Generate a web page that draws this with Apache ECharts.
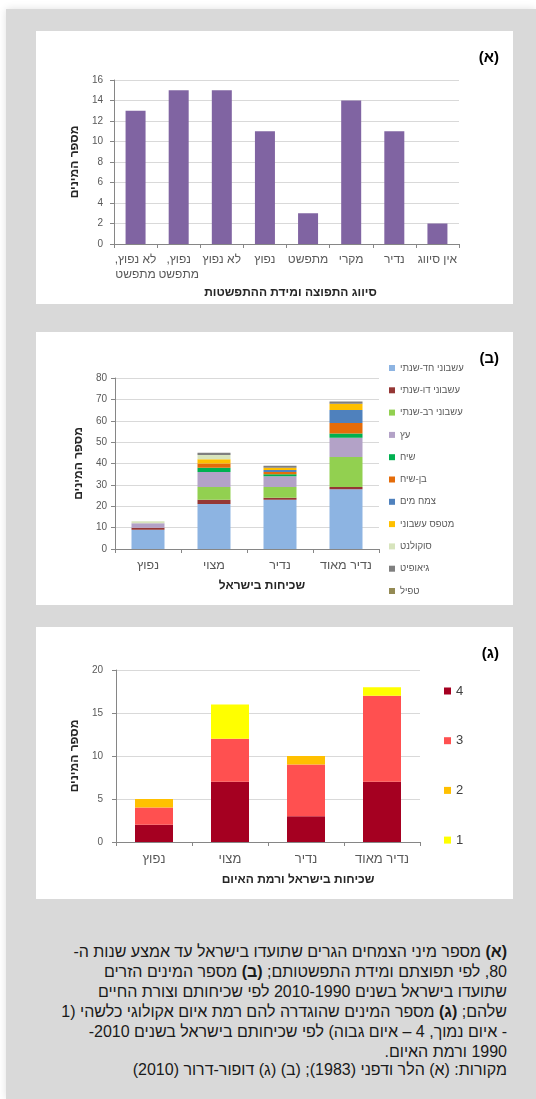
<!DOCTYPE html>
<html lang="he">
<head>
<meta charset="utf-8">
<title>מיני צמחים בישראל</title>
<script src="https://cdn.jsdelivr.net/npm/echarts@6/dist/echarts.min.js"></script>
<style>
  html, body { margin: 0; padding: 0; background: #fff; }
  body {
    width: 536px; height: 1099px; position: relative; overflow: hidden;
    font-family: Arial, "Liberation Sans", "DejaVu Sans", sans-serif;
  }
  .panel {
    position: absolute; left: 6px; top: 9px; width: 530px; height: 1090px;
    background: #d9d9d9; box-shadow: 0 0 8px rgba(0, 0, 0, 0.12);
  }
  .card { position: absolute; left: 36px; width: 477px; background: #fff; }
  .chart { width: 100%; height: 100%; }
  .caption {
    position: absolute; right: 29px; top: 942px; width: 480px;
    direction: rtl; text-align: right; font-size: 16px; line-height: 20px; color: #1a1a1a;
  }
  .sources {
    position: absolute; right: 29px; top: 1060px; width: 480px;
    direction: rtl; text-align: right; font-size: 16px; line-height: 20px; color: #1a1a1a;
  }
</style>
</head>
<body>
<div class="panel"></div>
<div class="card" style="top:31px;height:273px"><div class="chart" id="chartA" dir="rtl"></div></div>
<div class="card" style="top:332px;height:273px"><div class="chart" id="chartB" dir="rtl"></div></div>
<div class="card" style="top:627px;height:272px"><div class="chart" id="chartC" dir="rtl"></div></div>
<div class="caption">
<b>(א)</b> מספר מיני הצמחים הגרים שתועדו בישראל עד אמצע שנות ה-<br>80, לפי תפוצתם ומידת התפשטותם; <b>(ב)</b> מספר המינים הזרים<br>שתועדו בישראל בשנים 2010-1990 לפי שכיחותם וצורת החיים<br>שלהם; <b>(ג)</b> מספר המינים שהוגדרה להם רמת איום אקולוגי כלשהי (1<br>- איום נמוך, 4 – איום גבוה) לפי שכיחותם בישראל בשנים 2010-<br>1990 ורמת האיום.
</div>
<div class="sources">מקורות: (א) הלר ודפני (1983); (ב) (ג) דופור-דרור (2010)</div>

<script>
// (א) distribution / spread categories
const distCategories = ['לא נפוץ,\nמתפשט', 'נפוץ,\nמתפשט', 'לא נפוץ', 'נפוץ', 'מתפשט', 'מקרי', 'נדיר', 'אין סיווג'];
const distCounts = [13, 15, 15, 11, 3, 14, 11, 2];

// (ב) + (ג) frequency in Israel
const freqCategories = ['נפוץ', 'מצוי', 'נדיר', 'נדיר מאוד'];

// (ב) life forms, bottom of the stack first
const lifeForms = ['עשבוני חד-שנתי', 'עשבוני דו-שנתי', 'עשבוני רב-שנתי', 'עץ', 'שיח', 'בן-שיח', 'צמח מים', 'מטפס עשבוני', 'סוקולנט', 'גיאופיט', 'טפיל'];
const annualHerb = [9, 21, 23, 28];
const biennialHerb = [1, 2, 1, 1];
const perennialHerb = [0, 6, 5, 14];
const tree = [2, 7, 5, 9];
const shrub = [0, 2, 1, 2];
const subShrub = [0, 2, 1, 5];
const aquatic = [0, 0, 1, 6];
const climber = [0, 2, 1, 3];
const succulent = [1, 2, 0, 0];
const geophyte = [0, 1, 1, 1];
const parasite = [0, 0, 0, 0];
const lifeFormValues = [annualHerb, biennialHerb, perennialHerb, tree, shrub, subShrub, aquatic, climber, succulent, geophyte, parasite];
const lifeFormColors = ['#8db4e2', '#953735', '#92d050', '#b3a2c7', '#00b050', '#e46c0a', '#4f81bd', '#ffc000', '#d7e4bd', '#7f7f7f', '#948a54'];

// (ג) threat level, bottom of the stack first
const threatLevels = ['4', '3', '2', '1'];
const threat4 = [2, 7, 3, 7];
const threat3 = [2, 5, 6, 10];
const threat2 = [1, 0, 1, 0];
const threat1 = [0, 4, 0, 1];
const threatValues = [threat4, threat3, threat2, threat1];
const threatColors = ['#a50021', '#ff5050', '#ffc000', '#ffff00'];

const FONT = 'Arial, "Liberation Sans", "DejaVu Sans", sans-serif';
const AXIS_GRAY = '#868686';
const GRID_GRAY = '#d9d9d9';
const LABEL_GRAY = '#595959';

function panelTitle(text) {
  return {
    text: text, right: 9, top: 14,
    textStyle: { fontFamily: FONT, fontSize: 15, fontWeight: 'bold', color: '#000' },
  };
}

function countAxis(max, interval, labelMargin, nameGap) {
  return {
    type: 'value', min: 0, max: max, interval: interval,
    name: 'מספר המינים', nameLocation: 'middle', nameGap: nameGap,
    nameTextStyle: { fontFamily: FONT, fontSize: 12, fontWeight: 'bold', color: '#262626' },
    axisLine: { show: true, lineStyle: { color: AXIS_GRAY } },
    axisTick: { show: true, length: 4, lineStyle: { color: AXIS_GRAY } },
    axisLabel: { fontFamily: FONT, fontSize: 10, color: LABEL_GRAY, margin: labelMargin },
    splitLine: { show: true, lineStyle: { color: GRID_GRAY } },
  };
}

function categoryAxis(data, name, nameGap, shift, labelMargin, labelSize) {
  return {
    type: 'category', data: data,
    name: name, nameLocation: 'middle', nameGap: nameGap,
    nameTextStyle: { fontFamily: FONT, fontSize: 12, fontWeight: 'bold', color: '#262626', padding: [0, 0, 0, shift * 2] },
    axisLine: { show: true, lineStyle: { color: AXIS_GRAY } },
    axisTick: { show: true, length: 4, lineStyle: { color: AXIS_GRAY } },
    axisLabel: { interval: 0, fontFamily: FONT, fontSize: labelSize, lineHeight: 15, color: LABEL_GRAY, margin: labelMargin },
    splitLine: { show: false },
  };
}

// (א)
let chartA = echarts.init(document.getElementById('chartA'));
chartA.setOption({
  animation: false,
  title: panelTitle('(א)'),
  grid: { left: 78, right: 54, top: 49, bottom: 60, containLabel: false, outerBoundsMode: 'none' },
  xAxis: categoryAxis(distCategories, 'סיווג התפוצה ומידת ההתפשטות', 41, 4, 8, 12),
  yAxis: countAxis(16, 2, 11, 30),
  series: [{ type: 'bar', data: distCounts, barWidth: 20, itemStyle: { color: '#8064a2' } }],
});

// (ב)
let chartB = echarts.init(document.getElementById('chartB'));
chartB.setOption({
  animation: false,
  title: panelTitle('(ב)'),
  grid: { left: 79, right: 134, top: 46, bottom: 56, containLabel: false, outerBoundsMode: 'none' },
  legend: {
    orient: 'vertical', left: 353, top: 31, padding: 0, icon: 'rect',
    itemWidth: 6, itemHeight: 6, itemGap: 12.3,
    textStyle: { fontFamily: FONT, fontSize: 9.5, color: LABEL_GRAY },
    data: lifeForms,
  },
  xAxis: categoryAxis(freqCategories, 'שכיחות בישראל', 31, 15, 9, 12.5),
  yAxis: countAxis(80, 10, 8, 30),
  series: lifeForms.map((name, i) => ({
    type: 'bar', name: name, stack: 'total', barWidth: 33,
    data: lifeFormValues[i], itemStyle: { color: lifeFormColors[i] },
  })),
});

// (ג)
let chartC = echarts.init(document.getElementById('chartC'));
chartC.setOption({
  animation: false,
  title: panelTitle('(ג)'),
  grid: { left: 80, right: 93, top: 43, bottom: 57, containLabel: false, outerBoundsMode: 'none' },
  legend: {
    orient: 'vertical', left: 403, top: 52.5, icon: 'rect',
    itemWidth: 7, itemHeight: 7, itemGap: 36.7,
    textStyle: { fontFamily: FONT, fontSize: 13, color: '#404040' },
    data: threatLevels,
  },
  xAxis: categoryAxis(freqCategories, 'שכיחות בישראל ורמת האיום', 32, 30, 10, 13),
  yAxis: countAxis(20, 5, 13, 32),
  series: threatLevels.map((name, i) => ({
    type: 'bar', name: name, stack: 'total', barWidth: 38,
    data: threatValues[i], itemStyle: { color: threatColors[i] },
  })),
});
</script>
</body>
</html>
